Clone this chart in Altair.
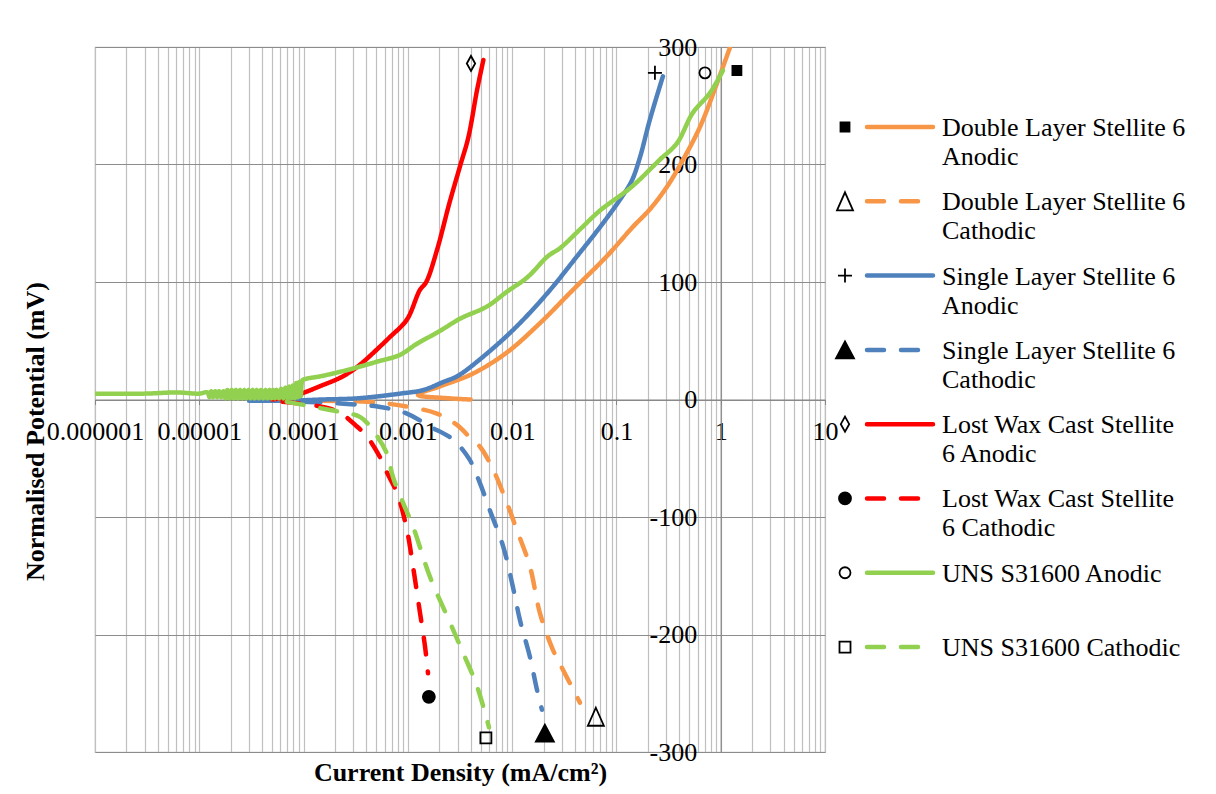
import altair as alt
import pandas as pd

# ---------------- data ----------------
SERIES = [
    "Double Layer Stellite 6 Anodic",
    "Double Layer Stellite 6 Cathodic",
    "Single Layer Stellite 6 Anodic",
    "Single Layer Stellite 6 Cathodic",
    "Lost Wax Cast Stellite 6 Anodic",
    "Lost Wax Cast Stellite 6 Cathodic",
    "UNS S31600 Anodic",
    "UNS S31600 Cathodic",
]
KINDS = ["Anodic", "Cathodic"] * 4
COLORS = ["#F79646", "#F79646", "#4F81BD", "#4F81BD",
          "#FF0000", "#FF0000", "#92D050", "#92D050"]

LEGEND_TEXT = [
    ["Double Layer Stellite 6", "Anodic"],
    ["Double Layer Stellite 6", "Cathodic"],
    ["Single Layer Stellite 6", "Anodic"],
    ["Single Layer Stellite 6", "Cathodic"],
    ["Lost Wax Cast Stellite", "6 Anodic"],
    ["Lost Wax Cast Stellite", "6 Cathodic"],
    ["UNS S31600 Anodic"],
    ["UNS S31600 Cathodic"],
]

DL_AN_X = [4.0e-3, 2.5e-3, 1.25e-3, 2.0e-3, 4.2e-3, 8.9e-3, 0.0185, 0.038, 0.081,
           0.144, 0.21, 0.305, 0.435, 0.633, 0.92, 1.22]
DL_AN_Y = [0, 1, 4, 11, 22, 40, 65, 93, 122, 147, 162, 181, 204, 232, 269, 299]

DL_CA_X = [1.5e-4, 4.1e-4, 8.4e-4, 1.9e-3, 3.0e-3, 3.9e-3, 4.9e-3, 6.6e-3, 8.9e-3,
           0.0111, 0.0148, 0.0185, 0.0246, 0.0307, 0.0447]
DL_CA_Y = [-1, -2, -5, -12, -22, -32, -40, -60, -88, -111, -142, -182, -213, -230, -258]

SL_AN_X = [3e-5, 7.4e-5, 1.5e-4, 3.3e-4, 8.4e-4, 1.4e-3, 2.2e-3, 3.0e-3, 5.2e-3,
           0.011, 0.023, 0.042, 0.07, 0.108, 0.14, 0.168, 0.209, 0.279]
SL_AN_Y = [-1, -1, 0, 1, 5, 8, 15, 20, 36, 62, 93, 122, 147, 170, 186, 206, 238, 275]

SL_CA_X = [1.0e-4, 5.1e-4, 9.8e-4, 1.63e-3, 2.7e-3, 3.9e-3, 4.9e-3, 6.1e-3, 8.2e-3,
           0.0102, 0.0119, 0.0148, 0.0173, 0.0193]
SL_CA_Y = [-2, -6, -12, -23, -34, -51, -71, -94, -125, -160, -188, -219, -247, -264]

LW_AN_X = [5.0e-5, 8.7e-5, 1.5e-4, 2.3e-4, 3.3e-4, 5.4e-4, 6.7e-4, 9.8e-4, 1.3e-3,
           1.5e-3, 1.9e-3, 2.5e-3, 3.2e-3, 3.8e-3, 4.6e-3, 5.3e-3]
LW_AN_Y = [0, 4, 12, 19, 28, 45, 53, 68, 93, 100, 127, 167, 200, 223, 263, 289]

LW_CA_X = [6.3e-5, 1.44e-4, 2.2e-4, 3.25e-4, 4.1e-4, 5.4e-4, 6.3e-4, 7.9e-4, 9.8e-4,
           1.12e-3, 1.31e-3, 1.46e-3, 1.56e-3]
LW_CA_Y = [-2, -6, -11, -23, -32, -49, -62, -80, -111, -142, -182, -210, -233]

UNS_AN_X = [1e-6, 3e-6, 6e-6, 1e-5, 1.2e-5,
            1.25e-5, 1.3e-5, 1.36e-5, 1.42e-5, 1.48e-5, 1.55e-5, 1.62e-5, 1.7e-5,
            1.78e-5, 1.86e-5, 1.95e-5, 2.04e-5, 2.14e-5, 2.24e-5, 2.35e-5, 2.46e-5,
            2.58e-5, 2.7e-5, 2.83e-5, 2.96e-5, 3.1e-5, 3.25e-5, 3.4e-5, 3.56e-5,
            3.73e-5, 3.9e-5, 4.1e-5, 4.3e-5, 4.5e-5, 4.7e-5, 4.9e-5, 5.1e-5, 5.3e-5,
            5.5e-5, 5.8e-5, 6.1e-5, 6.4e-5, 6.7e-5, 7.0e-5, 7.3e-5, 7.6e-5, 7.9e-5,
            8.2e-5, 8.5e-5, 8.8e-5, 9.1e-5, 9.4e-5, 9.7e-5, 1.0e-4,
            1.5e-4, 2.6e-4, 5e-4, 8.4e-4, 1.2e-3, 2.0e-3,
            3.2e-3, 5.7e-3, 9e-3, 0.014, 0.022, 0.029, 0.045, 0.07, 0.14, 0.26,
            0.38, 0.54, 0.79, 1.05]
UNS_AN_Y = [5, 5, 6, 5, 6,
            2, 7, 2, 7, 2, 7, 2, 7,
            1, 8, 1, 8, 1, 8, 1, 8,
            1, 8, 1, 8, 1, 8, 1, 8,
            1, 8, 1, 8, 1, 8, 1, 8, 1,
            8, 1, 9, 1, 10, 1, 11, 1, 12,
            1, 14, 2, 15, 3, 16, 17,
            20, 25, 32, 38, 47, 58,
            69, 79, 92, 104, 122, 129, 145, 161, 181, 204,
            218, 244, 261, 280]

UNS_CA_X = [6.9e-5, 1.8e-4, 3.5e-4, 4.6e-4, 6.3e-4, 7.2e-4, 9.0e-4, 1.12e-3, 1.63e-3,
            2.54e-3, 3.4e-3, 4.6e-3, 6.0e-3]
UNS_CA_Y = [-2, -9, -15, -26, -46, -66, -88, -108, -151, -190, -216, -244, -279]

# end-of-curve symbols (data labels)
MARK_X = [1.43, 0.0635, 0.234, 0.0206, 4.03e-3, 1.59e-3, 0.706, 5.6e-3]
MARK_Y = [280, -270, 278, -284, 286, -253, 278, -288]

X_DECADES = [1e-6, 1e-5, 1e-4, 1e-3, 1e-2, 1e-1, 1, 10]
Y_TICKS = [-300, -200, -100, 0, 100, 200, 300]

# ---------------- tables ----------------
CURVES = [(DL_AN_X, DL_AN_Y), (DL_CA_X, DL_CA_Y), (SL_AN_X, SL_AN_Y), (SL_CA_X, SL_CA_Y),
          (LW_AN_X, LW_AN_Y), (LW_CA_X, LW_CA_Y), (UNS_AN_X, UNS_AN_Y), (UNS_CA_X, UNS_CA_Y)]
rows = []
for s, k, (xs, ys) in zip(SERIES, KINDS, CURVES):
    for i, (xv, yv) in enumerate(zip(xs, ys)):
        rows.append({"series": s, "kind": k, "x": xv, "y": yv, "idx": i})
curves = pd.DataFrame(rows)
marks = pd.DataFrame({"series": SERIES, "x": MARK_X, "y": MARK_Y})
legend_df = pd.DataFrame({"series": SERIES, "kind": KINDS,
                          "row": list(range(len(SERIES))), "text": LEGEND_TEXT})

x_grid = []
for d in X_DECADES[:-1]:
    x_grid += [d * m for m in range(1, 10)]
x_grid.append(X_DECADES[-1])

# ---------------- styling ----------------
W, H = 730, 705
FONT = "Liberation Serif"
FS = 26
X_ONE = W * 6 / 7  # pixel position of x = 1 (where the vertical axis crosses)

GLYPHS = [
    "M-0.45,-0.45H0.45V0.45H-0.45Z",            # small filled square
    "M0,-0.9L0.8,0.9L-0.8,0.9Z",                # open delta
    "M-0.7,0H0.7M0,-0.7V0.7",                   # plus
    "M0,-0.85L0.9,0.85L-0.9,0.85Z",             # filled triangle
    "M0,-0.75L0.42,0L0,0.75L-0.42,0Z",          # lozenge
    "M0.6,0A0.6,0.6,0,1,1,-0.6,0A0.6,0.6,0,1,1,0.6,0Z",     # filled circle
    "M0.55,0A0.55,0.55,0,1,1,-0.55,0A0.55,0.55,0,1,1,0.55,0Z",  # open circle
    "M-0.55,-0.55H0.55V0.55H-0.55Z",            # open square
]
FILLS = ["black", "transparent", "transparent", "black",
         "transparent", "black", "transparent", "transparent"]

decade_test = "abs(log(datum.value)/LN10 - round(log(datum.value)/LN10)) < 0.000001"

color_scale = alt.Scale(domain=SERIES, range=COLORS)
dash_scale = alt.Scale(domain=["Anodic", "Cathodic"], range=[[1, 0], [17, 17]])
shape_scale = alt.Scale(domain=SERIES, range=GLYPHS)
fill_scale = alt.Scale(domain=SERIES, range=FILLS)

X_ENC = alt.X(
    "x:Q",
    scale=alt.Scale(type="log", domain=[1e-6, 10], nice=False),
    axis=alt.Axis(
        values=x_grid, orient="bottom", offset=-H / 2,
        grid=True, gridColor="#BFBFBF", gridWidth=1.2,
        domain=True, domainColor="#868686", domainWidth=1.2,
        ticks=True, tickColor="#868686", tickSize=5,
        tickOpacity={"condition": {"test": decade_test, "value": 1}, "value": 0},
        format=".6~f", labelExpr=decade_test + " ? datum.label : ''",
        labelFlush=False, labelOverlap=False, labelBound=False,
        labelFont=FONT, labelFontSize=FS, labelColor="black", labelPadding=14,
        title="Current Density (mA/cm²)", titleFont=FONT, titleFontSize=FS,
        titleFontWeight="bold", titleColor="black",
        titleX=W / 2, titleY=381, titleBaseline="alphabetic", titleAlign="center",
    ),
)
Y_ENC = alt.Y(
    "y:Q",
    scale=alt.Scale(domain=[-300, 300], nice=False, zero=False),
    axis=alt.Axis(
        values=Y_TICKS, orient="left", offset=-X_ONE,
        grid=True, gridColor="#8C8C8C", gridWidth=1.2,
        domain=True, domainColor="#868686", domainWidth=1.2,
        ticks=False, tickSize=0, labelPadding=24,
        labelExpr="'' + datum.value",
        labelFont=FONT, labelFontSize=FS, labelColor="black",
        title="Normalised Potential (mV)", titleFont=FONT, titleFontSize=FS,
        titleFontWeight="bold", titleColor="black", titleAngle=270,
        titleX=43 - 95 - X_ONE, titleY=384, titleAlign="center",
        titleBaseline="alphabetic",
    ),
)

lines = alt.Chart(curves).mark_line(
    strokeWidth=4.5, strokeCap="round", strokeJoin="round", clip=True,
    interpolate="catmull-rom"
).encode(
    x=X_ENC, y=Y_ENC,
    color=alt.Color("series:N", scale=color_scale, legend=None),
    strokeDash=alt.StrokeDash("kind:N", scale=dash_scale, legend=None),
    detail="series:N",
    order="idx:Q",
)

symbols = alt.Chart(marks).mark_point(
    size=400, stroke="black", strokeWidth=1.8, opacity=1
).encode(
    x=X_ENC, y=Y_ENC,
    shape=alt.Shape("series:N", scale=shape_scale, legend=None),
    fill=alt.Fill("series:N", scale=fill_scale, legend=None),
)

LY = alt.Y("row:Q", scale=alt.Scale(domain=[-1.077, 8.413], reverse=True, nice=False, zero=False),
           axis=None)

leg_rule = alt.Chart(legend_df).mark_rule(strokeWidth=4.5, strokeCap="round").encode(
    x=alt.value(772), x2=alt.value(838), y=LY,
    color=alt.Color("series:N", scale=color_scale, legend=None),
    strokeDash=alt.StrokeDash("kind:N", scale=dash_scale, legend=None),
)
leg_glyph = alt.Chart(legend_df).mark_point(
    size=400, stroke="black", strokeWidth=1.8, opacity=1
).encode(
    x=alt.value(750), y=LY,
    shape=alt.Shape("series:N", scale=shape_scale, legend=None),
    fill=alt.Fill("series:N", scale=fill_scale, legend=None),
)
leg_text = alt.Chart(legend_df).mark_text(
    align="left", baseline="alphabetic", dy=9, font=FONT, fontSize=FS,
    lineHeight=29, color="black"
).encode(x=alt.value(847), y=LY, text=alt.Text("text:N"))

main = alt.layer(lines, symbols)
legend = alt.layer(leg_rule, leg_glyph, leg_text)

chart = alt.layer(main, legend).resolve_scale(y="independent").properties(
    width=W, height=H,
    padding={"left": 14, "top": 26, "right": 5, "bottom": 5},
).configure_view(stroke="#BFBFBF", strokeWidth=1.2)

chart.save("out.html", embed_options={"renderer": "svg", "actions": False})
